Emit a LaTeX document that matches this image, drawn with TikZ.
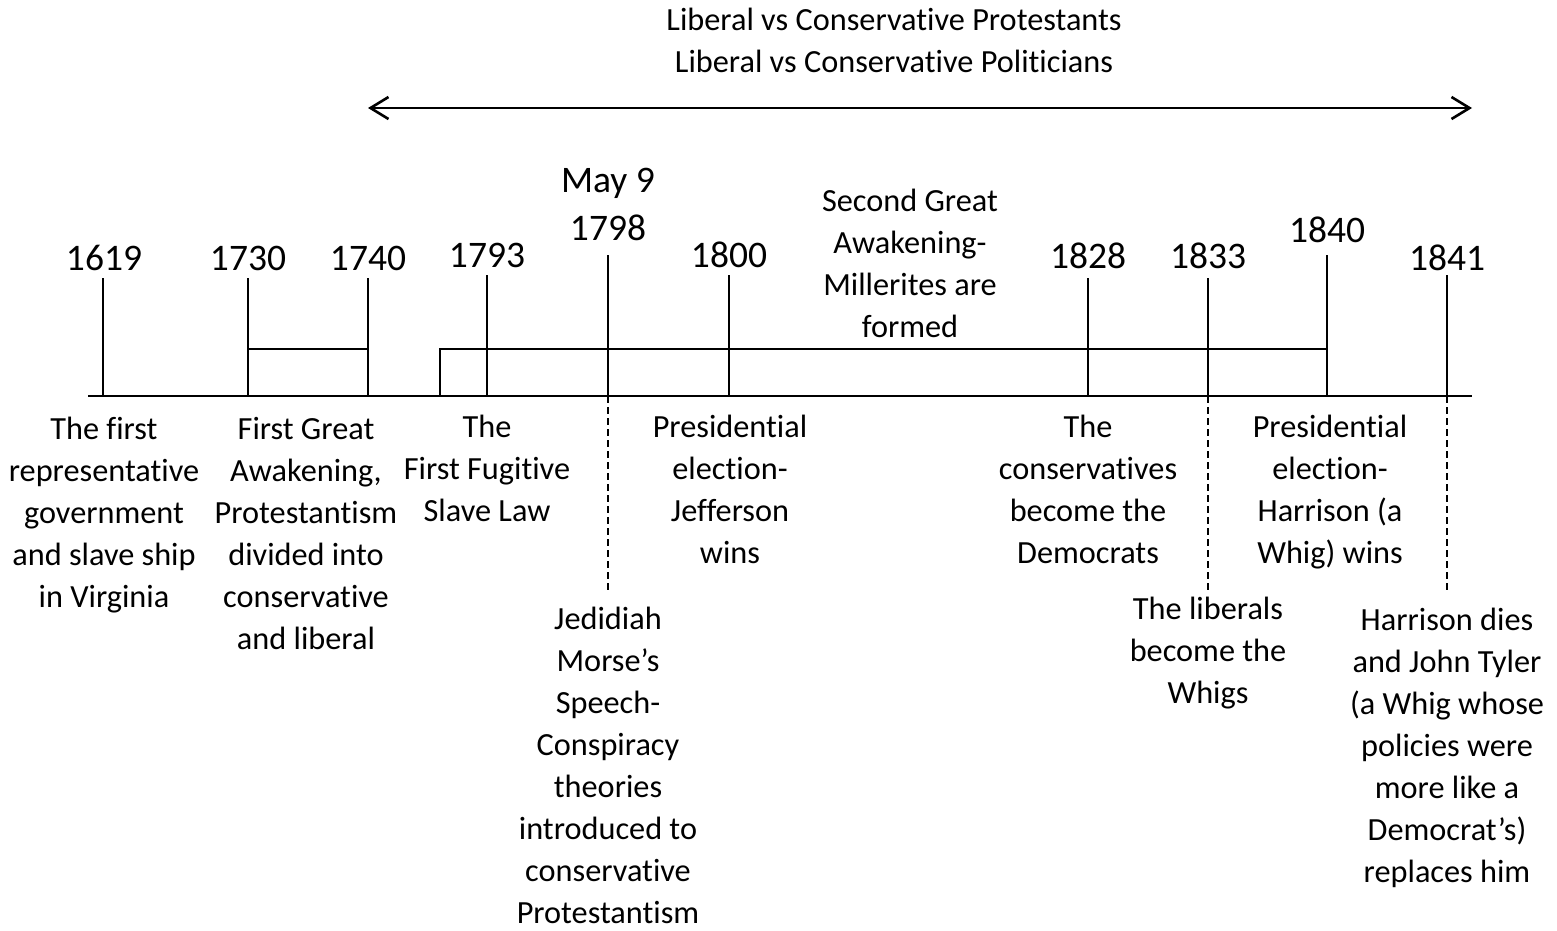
\documentclass[tikz,border=0pt]{standalone}
\usepackage{fontspec}
\setmainfont[Ligatures={NoCommon},Numbers={Lining,Monospaced}]{Carlito}
\usetikzlibrary{arrows.meta}
\begin{document}
\begin{tikzpicture}[x=1pt,y=-1pt,line width=2.6pt,
  lbl/.style={inner sep=0pt,align=center,font=\fontsize{32.3}{42}\selectfont,anchor=north},
  yr/.style={inner sep=0pt,font=\fontsize{37.5}{48}\selectfont},
  dashline/.style={dash pattern=on 7pt off 4pt,line width=2.4pt},
  barb/.style={{Straight Barb[length=18pt,width=22pt]}-{Straight Barb[length=18pt,width=22pt]}}]
\useasboundingbox (0,0) rectangle (1557,930);

% top arrow
\coordinate (arL) at (368,108);
\coordinate (arR) at (1472,108);
\draw[barb] (arL) -- (arR);
\node[lbl] (top) at (894,-0.6) {\strut Liberal vs Conservative Protestants\\Liberal vs Conservative Politicians};

% axis
\coordinate (axL) at (88,396);
\coordinate (axR) at (1472,396);
\draw (axL) -- (axR);

% ticks
\coordinate (t1619) at (103,278); \coordinate (b1619) at (103,396);
\coordinate (t1730) at (248,278); \coordinate (b1730) at (248,396);
\coordinate (t1740) at (368,278); \coordinate (b1740) at (368,396);
\coordinate (t1793) at (487,275); \coordinate (b1793) at (487,396);
\coordinate (t1798) at (608,255); \coordinate (b1798) at (608,396); \coordinate (d1798) at (608,590);
\coordinate (t1800) at (729,275); \coordinate (b1800) at (729,396);
\coordinate (t1828) at (1088,278); \coordinate (b1828) at (1088,396);
\coordinate (t1833) at (1208,278); \coordinate (b1833) at (1208,396); \coordinate (d1833) at (1208,590);
\coordinate (t1840) at (1327,255); \coordinate (b1840) at (1327,396);
\coordinate (t1841) at (1447,275); \coordinate (b1841) at (1447,396); \coordinate (d1841) at (1447,590);

\draw (t1619) -- (b1619);
\draw (t1730) -- (b1730);
\draw (t1740) -- (b1740);
\draw (t1793) -- (b1793);
\draw (t1798) -- (b1798);
\draw (t1800) -- (b1800);
\draw (t1828) -- (b1828);
\draw (t1833) -- (b1833);
\draw (t1840) -- (b1840);
\draw (t1841) -- (b1841);

\draw[dashline] (b1798) -- (d1798);
\draw[dashline] (b1833) -- (d1833);
\draw[dashline] (b1841) -- (d1841);

% brackets
\coordinate (k1730) at (248,349); \coordinate (k1740) at (368,349);
\draw (k1730) -- (k1740);
\coordinate (sb) at (440,396); \coordinate (st) at (440,349); \coordinate (k1840) at (1327,349);
\draw (sb) -- (st) -- (k1840);

% year labels
\node[yr] (y1619) at (104,258) {1619};
\node[yr] (y1730) at (248,258) {1730};
\node[yr] (y1740) at (368,258) {1740};
\node[yr] (y1793) at (487,255) {1793};
\node[yr,align=center,anchor=north] (y1798) at (608,157.4) {\strut May 9\\1798};
\node[yr] (y1800) at (729,255) {1800};
\node[yr] (y1828) at (1088,256) {1828};
\node[yr] (y1833) at (1208,256) {1833};
\node[yr] (y1840) at (1327,230) {1840};
\node[yr] (y1841) at (1447,258) {1841};

\node[lbl] (sga) at (910,180.6) {\strut Second Great\\Awakening-\\Millerites are\\formed};

% event labels
\node[lbl] (e1619) at (104,408.4) {\strut The first\\representative\\government\\and slave ship\\in Virginia};
\node[lbl] (e1730) at (306,408.4) {\strut First Great\\Awakening,\\Protestantism\\divided into\\conservative\\and liberal};
\node[lbl] (e1793) at (487,406.4) {\strut The\\First Fugitive\\Slave Law};
\node[lbl] (e1798) at (608,598.4) {\strut Jedidiah\\Morse’s\\Speech-\\Conspiracy\\theories\\introduced to\\conservative\\Protestantism};
\node[lbl] (e1800) at (730,406.4) {\strut Presidential\\election-\\Jefferson\\wins};
\node[lbl] (e1828) at (1088,406.4) {\strut The\\conservatives\\become the\\Democrats};
\node[lbl] (e1833) at (1208,588.4) {\strut The liberals\\become the\\Whigs};
\node[lbl] (e1840) at (1330,406.4) {\strut Presidential\\election-\\Harrison (a\\Whig) wins};
\node[lbl] (e1841) at (1447,599.4) {\strut Harrison dies\\and John Tyler\\(a Whig whose\\policies were\\more like a\\Democrat’s)\\replaces him};
\end{tikzpicture}
\end{document}
